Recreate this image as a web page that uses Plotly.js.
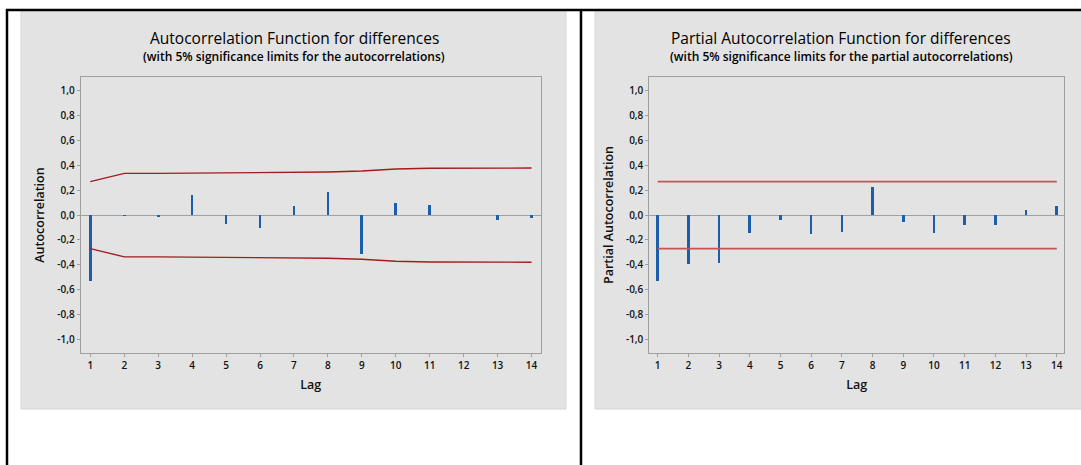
<!DOCTYPE html>
<html>
<head>
<meta charset="utf-8">
<script src="https://cdn.plot.ly/plotly-3.0.1.min.js"></script>
<style>
html,body{margin:0;padding:0;background:#fff;}
#chart{width:1081px;height:465px;}
</style>
</head>
<body>
<div id="chart"></div>
<script>
// ---- data ----
var lags = [1,2,3,4,5,6,7,8,9,10,11,12,13,14];
var acfValues = [-0.527,-0.006,-0.015,0.159,-0.073,-0.100,0.075,0.185,-0.317,0.100,0.083,0.003,-0.043,-0.024];
var acfUpper = [0.270,0.336,0.336,0.338,0.345,0.346,0.346,0.347,0.355,0.372,0.378,0.378,0.378,0.379];
var acfLower = [-0.270,-0.336,-0.336,-0.338,-0.345,-0.346,-0.346,-0.347,-0.355,-0.372,-0.378,-0.378,-0.378,-0.379];
var pacfValues = [-0.530,-0.395,-0.384,-0.142,-0.040,-0.150,-0.134,0.228,-0.059,-0.142,-0.083,-0.083,0.043,0.075];
var pacfUpper = [0.270,0.270,0.270,0.270,0.270,0.270,0.270,0.270,0.270,0.270,0.270,0.270,0.270,0.270];
var pacfLower = [-0.270,-0.270,-0.270,-0.270,-0.270,-0.270,-0.270,-0.270,-0.270,-0.270,-0.270,-0.270,-0.270,-0.270];
var yTickVals = [1.0,0.8,0.6,0.4,0.2,0.0,-0.2,-0.4,-0.6,-0.8,-1.0];
var yTickText = ["1,0","0,8","0,6","0,4","0,2","0,0","-0,2","-0,4","-0,6","-0,8","-1,0"];
var xTickText = ["1","2","3","4","5","6","7","8","9","10","11","12","13","14"];

// ---- geometry ----
var W = 1081, H = 465;
function px(x){ return x / W; }
function py(y){ return 1 - y / H; }

var FONT = "Open Sans, sans-serif";
var barColor = "#1c5ea9";

var traces = [
  {type:"bar", x:lags, y:acfValues, width:0.08, marker:{color:barColor}, xaxis:"x", yaxis:"y", hoverinfo:"x+y"},
  {type:"scatter", mode:"lines", x:lags, y:acfUpper, line:{color:"#a11d1d", width:1.4}, xaxis:"x", yaxis:"y"},
  {type:"scatter", mode:"lines", x:lags, y:acfLower, line:{color:"#a11d1d", width:1.4}, xaxis:"x", yaxis:"y"},
  {type:"bar", x:lags, y:pacfValues, width:0.085, marker:{color:barColor}, xaxis:"x2", yaxis:"y2", hoverinfo:"x+y"},
  {type:"scatter", mode:"lines", x:lags, y:pacfUpper, line:{color:"#c25555", width:1.8}, xaxis:"x2", yaxis:"y2"},
  {type:"scatter", mode:"lines", x:lags, y:pacfLower, line:{color:"#c25555", width:1.8}, xaxis:"x2", yaxis:"y2"}
];

function xAxis(domain, range, anchor){
  return {
    domain: domain, range: range, anchor: anchor,
    tickmode:"array", tickvals: lags, ticktext: xTickText,
    ticks:"outside", ticklen:3, tickcolor:"#a0a0a0", tickwidth:1,
    showline:true, mirror:true, linecolor:"#a0a0a0", linewidth:1,
    showgrid:false, zeroline:false,
    tickfont:{family:FONT, size:10, color:"#111", weight:600},
    title:{text:"Lag", font:{family:FONT, size:12.5, color:"#111", weight:600}, standoff:8}
  };
}
function yAxis(domain, anchor, title){
  return {
    domain: domain, range:[-1.113,1.115], anchor: anchor,
    tickmode:"array", tickvals: yTickVals, ticktext: yTickText,
    ticks:"outside", ticklen:3, tickcolor:"#a0a0a0", tickwidth:1,
    showline:true, mirror:true, linecolor:"#a0a0a0", linewidth:1,
    showgrid:false, zeroline:true, zerolinecolor:"#a0a0a0", zerolinewidth:1,
    tickfont:{family:FONT, size:10, color:"#111", weight:600},
    title:{text:title, font:{family:FONT, size:12.5, color:"#111", weight:600}, standoff:9}
  };
}

var yDom = [py(353.3), py(76.7)];
var layout = {
  width: W, height: H,
  margin:{l:0,r:0,t:0,b:0,pad:0},
  paper_bgcolor:"#ffffff", plot_bgcolor:"#ffffff",
  showlegend:false, bargap:0,
  xaxis: xAxis([px(80.7), px(540.7)], [0.717, 14.27], "y"),
  yaxis: yAxis(yDom, "x", "Autocorrelation"),
  xaxis2: xAxis([px(649.3), px(1064.3)], [0.726, 14.245], "y2"),
  yaxis2: yAxis(yDom, "x2", "Partial Autocorrelation"),
  shapes: [
    {type:"rect", xref:"paper", yref:"paper", x0:px(21), x1:px(566), y0:py(409), y1:py(10), fillcolor:"#e3e3e3", line:{color:"#d6d6d6", width:1}, layer:"below"},
    {type:"rect", xref:"paper", yref:"paper", x0:px(595), x1:px(1085), y0:py(409), y1:py(10), fillcolor:"#e3e3e3", line:{color:"#d6d6d6", width:1}, layer:"below"},
    {type:"line", xref:"paper", yref:"paper", x0:px(6), x1:px(1081), y0:py(10), y1:py(10), line:{color:"#000", width:2.5}},
    {type:"line", xref:"paper", yref:"paper", x0:px(7), x1:px(7), y0:py(9), y1:py(470), line:{color:"#000", width:2.5}},
    {type:"line", xref:"paper", yref:"paper", x0:px(581), x1:px(581), y0:py(9), y1:py(470), line:{color:"#000", width:2.5}}
  ],
  annotations: [
    {xref:"paper", yref:"paper", x:px(294), y:py(38), text:"Autocorrelation Function for differences", showarrow:false, xanchor:"center", yanchor:"middle", font:{family:FONT, size:15.5, color:"#000", weight:500}},
    {xref:"paper", yref:"paper", x:px(294), y:py(57), text:"(with 5% significance limits for the autocorrelations)", showarrow:false, xanchor:"center", yanchor:"middle", font:{family:FONT, size:12, color:"#000", weight:600}},
    {xref:"paper", yref:"paper", x:px(841), y:py(38), text:"Partial Autocorrelation Function for differences", showarrow:false, xanchor:"center", yanchor:"middle", font:{family:FONT, size:15.5, color:"#000", weight:500}},
    {xref:"paper", yref:"paper", x:px(841), y:py(57), text:"(with 5% significance limits for the partial autocorrelations)", showarrow:false, xanchor:"center", yanchor:"middle", font:{family:FONT, size:12, color:"#000", weight:600}}
  ]
};

Plotly.newPlot("chart", traces, layout, {displayModeBar:false, staticPlot:true});
</script>
</body>
</html>
